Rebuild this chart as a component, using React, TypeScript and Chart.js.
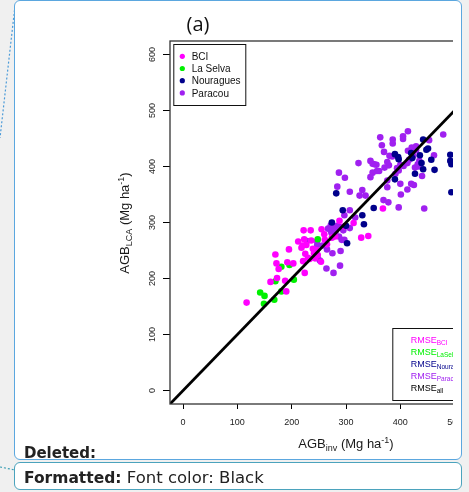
import React, { useEffect, useRef } from 'react';
import { Chart, registerables } from 'chart.js';

Chart.register(...registerables);

// ---------- data ----------
const SERIES_NAMES = ['BCI', 'La Selva', 'Nouragues', 'Paracou'];
const SERIES_COLORS = ['#FF00FF', '#00F000', '#00008B', '#A020F0'];
const RMSE_NAMES = ['BCI', 'LaSelva', 'Nouragues', 'Paracou', 'all'];
const RMSE_COLORS = ['#FF00FF', '#00F000', '#00008B', '#A020F0', '#000000'];
const X_TICKS = [0, 100, 200, 300, 400, 500, 600];
const Y_TICKS = [0, 100, 200, 300, 400, 500, 600];
const AXIS_MIN = -24;
const AXIS_MAX = 624;
const ONE_TO_ONE = [-24, 624];

const BCI_X = [117, 170, 172, 176, 161, 173, 188, 190, 192, 195, 203, 212, 220, 218, 223, 222, 227, 225, 221, 224, 235, 236, 230, 233, 239, 241, 246, 248, 243, 254, 255, 260, 261, 265, 274, 280, 288, 297, 314, 328, 341, 368];
const BCI_Y = [157, 243, 227, 217, 194, 201, 196, 177, 229, 252, 227, 266, 259, 255, 270, 286, 260, 244, 231, 210, 286, 268, 237, 235, 253, 245, 251, 242, 236, 230, 288, 279, 269, 261, 273, 275, 303, 293, 299, 273, 276, 325];

const LASELVA_X = [142, 150, 149, 168, 170, 181, 196, 204, 181, 248];
const LASELVA_Y = [175, 169, 155, 162, 195, 221, 224, 198, 177, 270];

const NOURAGUES_X = [282, 274, 294, 300, 302, 330, 333, 351, 390, 390, 396, 397, 422, 420, 436, 439, 442, 442, 427, 448, 451, 457, 463, 492, 492, 494, 494];
const NOURAGUES_Y = [352, 300, 322, 294, 263, 313, 297, 326, 377, 422, 417, 413, 415, 424, 420, 406, 395, 448, 387, 430, 432, 412, 394, 421, 410, 404, 354];

const PARACOU_X = [363, 366, 386, 386, 405, 405, 414, 370, 380, 385, 379, 376, 371, 345, 349, 352, 356, 361, 357, 349, 345, 323, 287, 298, 284, 307, 330, 325, 336, 376, 376, 400, 401, 413, 420, 425, 424, 414, 421, 429, 429, 435, 432, 427, 433, 440, 444, 453, 462, 479, 397, 369, 378, 394, 400, 397, 391, 406, 413, 416, 307, 297, 317, 307, 295, 290, 284, 276, 273, 281, 287, 292, 297, 290, 275, 265, 257, 247, 247, 248, 264, 277, 289, 228, 267, 272, 252];
const PARACOU_Y = [452, 438, 448, 441, 454, 449, 463, 426, 419, 418, 402, 408, 398, 410, 405, 404, 403, 392, 392, 389, 381, 406, 389, 380, 364, 355, 358, 348, 348, 375, 363, 369, 350, 359, 369, 367, 419, 428, 434, 436, 429, 410, 404, 398, 400, 383, 325, 447, 420, 457, 327, 340, 336, 397, 403, 393, 387, 401, 406, 412, 322, 313, 309, 290, 286, 292, 294, 291, 282, 285, 275, 269, 269, 249, 245, 252, 259, 267, 260, 236, 218, 210, 223, 267, 289, 295, 232];

const SERIES_X = [BCI_X, LASELVA_X, NOURAGUES_X, PARACOU_X];
const SERIES_Y = [BCI_Y, LASELVA_Y, NOURAGUES_Y, PARACOU_Y];
const SERIES_ORDER = [2, 3, 1, 4];

const TICK_FONT = 'Liberation Sans';

const decorPlugin = {
  id: 'decor',
  afterDraw(chart: any) {
    const { ctx, chartArea: a } = chart;
    ctx.save();
    // plot frame
    ctx.strokeStyle = '#333';
    ctx.lineWidth = 1.3;
    ctx.strokeRect(a.left, a.top, a.right - a.left, a.bottom - a.top);

    // legend (top-left)
    const lx = a.left + 3.3;
    const ly = a.top + 3;
    ctx.fillStyle = '#fff';
    ctx.fillRect(lx, ly, 72, 61);
    ctx.strokeStyle = '#111';
    ctx.lineWidth = 1;
    ctx.strokeRect(lx + 0.5, ly + 0.5, 72, 61);
    ctx.font = `10px ${TICK_FONT}`;
    ctx.textBaseline = 'alphabetic';
    ctx.textAlign = 'left';
    SERIES_NAMES.forEach((name, i) => {
      const cy = a.top + 15.3 + i * 12.2;
      ctx.fillStyle = SERIES_COLORS[i];
      ctx.beginPath();
      ctx.arc(a.left + 12.3, cy, 2.6, 0, Math.PI * 2);
      ctx.fill();
      ctx.fillStyle = '#111';
      ctx.fillText(name, a.left + 21.7, cy + 3.6);
    });

    // RMSE box (bottom-right)
    const rx = a.left + 222.3;
    const ry = a.top + 287;
    const rw = a.right - 4 - rx;
    const rh = a.bottom - 4 - ry;
    ctx.fillStyle = '#fff';
    ctx.fillRect(rx, ry, rw, rh);
    ctx.strokeStyle = '#111';
    ctx.strokeRect(rx + 0.5, ry + 0.5, rw, rh);
    RMSE_NAMES.forEach((name, i) => {
      const cy = a.top + 298.3 + i * 12;
      const tx = a.left + 240.7;
      ctx.fillStyle = RMSE_COLORS[i];
      ctx.font = `9px ${TICK_FONT}`;
      ctx.fillText('RMSE', tx, cy + 3.2);
      const w = ctx.measureText('RMSE').width;
      ctx.font = `6.5px ${TICK_FONT}`;
      ctx.fillText(name, tx + w, cy + 5.2);
    });
    ctx.restore();
  },
};

export default function App() {
  const canvasRef = useRef<HTMLCanvasElement | null>(null);

  useEffect(() => {
    if (!canvasRef.current) return;
    const datasets: any[] = [
      {
        label: '1:1',
        data: ONE_TO_ONE.map((v) => ({ x: v, y: v })),
        showLine: true,
        borderColor: '#000',
        borderWidth: 2.8,
        pointRadius: 0,
        order: 0,
        clip: 0,
      },
      ...SERIES_NAMES.map((name, s) => ({
        label: name,
        data: SERIES_X[s].map((x, i) => ({ x, y: SERIES_Y[s][i] })),
        backgroundColor: SERIES_COLORS[s],
        borderWidth: 0,
        pointRadius: 3.3,
        order: SERIES_ORDER[s],
      })),
    ];
    const chart = new Chart(canvasRef.current, {
      type: 'scatter',
      data: { datasets },
      options: {
        responsive: false,
        animation: false,
        events: [],
        layout: { padding: { left: 0, top: 21, right: 38, bottom: 0 } },
        plugins: {
          legend: { display: false },
          tooltip: { enabled: false },
        },
        scales: {
          x: {
            type: 'linear',
            min: AXIS_MIN,
            max: AXIS_MAX,
            afterBuildTicks: (s: any) => {
              s.ticks = X_TICKS.map((v) => ({ value: v }));
            },
            afterFit: (s: any) => {
              s.height = 56;
            },
            border: { display: false },
            grid: { drawOnChartArea: false, drawTicks: true, tickLength: 5, tickColor: '#000', tickWidth: 1 },
            ticks: {
              autoSkip: false,
              maxRotation: 0,
              minRotation: 0,
              padding: 8,
              color: '#222',
              font: { family: TICK_FONT, size: 9 },
            },
          },
          y: {
            type: 'linear',
            min: AXIS_MIN,
            max: AXIS_MAX,
            afterBuildTicks: (s: any) => {
              s.ticks = Y_TICKS.map((v) => ({ value: v }));
            },
            afterFit: (s: any) => {
              s.width = 70;
            },
            border: { display: false },
            grid: { drawOnChartArea: false, drawTicks: true, tickLength: 7, tickColor: '#000', tickWidth: 1 },
            ticks: {
              autoSkip: false,
              minRotation: 90,
              maxRotation: 90,
              crossAlign: 'center',
              padding: 3,
              color: '#222',
              font: { family: TICK_FONT, size: 9 },
            },
          },
        },
      } as any,
      plugins: [decorPlugin],
    });
    return () => chart.destroy();
  }, []);

  const sub: React.CSSProperties = { fontSize: 9, position: 'relative', top: 3, verticalAlign: 'baseline' };
  const sup: React.CSSProperties = { fontSize: 9, position: 'relative', top: -5, verticalAlign: 'baseline' };
  const axisTitle: React.CSSProperties = {
    position: 'absolute',
    fontFamily: 'Liberation Sans, Arial, sans-serif',
    fontSize: 13,
    lineHeight: '15px',
    whiteSpace: 'nowrap',
    color: '#1a1a1a',
  };

  return (
    <div style={{ position: 'fixed', left: 0, top: 0, width: 469, height: 492, background: '#f0f0f0', overflow: 'hidden' }}>
      <svg width={469} height={492} style={{ position: 'absolute', left: 0, top: 0 }}>
        <line x1={15} y1={6} x2={0} y2={138} stroke="#4a9ad8" strokeWidth={1.2} strokeDasharray="2 2" />
        <line x1={0} y1={467} x2={15} y2={470} stroke="#3fa0b5" strokeWidth={1.2} strokeDasharray="2 2" />
      </svg>
      <div style={{ position: 'absolute', left: 14, top: 0, width: 448, height: 460, boxSizing: 'border-box', border: '1.5px solid #5BA7DF', borderRadius: 6, background: '#fff' }} />
      <div style={{ position: 'absolute', left: 14, top: 462, width: 448, height: 28, boxSizing: 'border-box', border: '1.5px solid #4BA3BD', borderRadius: 6, background: '#fff' }} />

      <div style={{ position: 'absolute', left: 16, top: 2, width: 437, height: 457, overflow: 'hidden' }}>
        <canvas ref={canvasRef} width={460} height={440} style={{ position: 'absolute', left: 84, top: 18, width: 460, height: 440 }} />
      </div>

      <div style={{ position: 'absolute', left: 198, top: 14, transform: 'translateX(-50%)', fontFamily: 'Open Sans, sans-serif', fontSize: 20, lineHeight: '20px', color: '#111', whiteSpace: 'nowrap' }}>(a)</div>

      <div style={{ ...axisTitle, left: 118, top: 216, width: 14, height: 14 }}>
        <div style={{ position: 'absolute', left: 7, top: 7, transform: 'translate(-50%, -50%) rotate(-90deg)', whiteSpace: 'nowrap' }}>
          AGB<span style={sub}>LCA</span> (Mg ha<span style={sup}>-1</span>)
        </div>
      </div>
      <div style={{ ...axisTitle, left: 346, top: 436, transform: 'translateX(-50%)' }}>
        AGB<span style={sub}>inv</span> (Mg ha<span style={sup}>-1</span>)
      </div>

      <div style={{ position: 'absolute', left: 24, top: 446, fontFamily: 'DejaVu Sans, sans-serif', fontWeight: 'bold', fontSize: 15, lineHeight: '15px', color: '#222', whiteSpace: 'nowrap' }}>Deleted:</div>
      <div style={{ position: 'absolute', left: 24, top: 470, fontFamily: 'DejaVu Sans, sans-serif', fontSize: 16.5, lineHeight: '16px', color: '#222', whiteSpace: 'nowrap' }}>
        <span style={{ fontWeight: 'bold', fontSize: 15.5 }}>Formatted:</span> Font color: Black
      </div>
    </div>
  );
}
